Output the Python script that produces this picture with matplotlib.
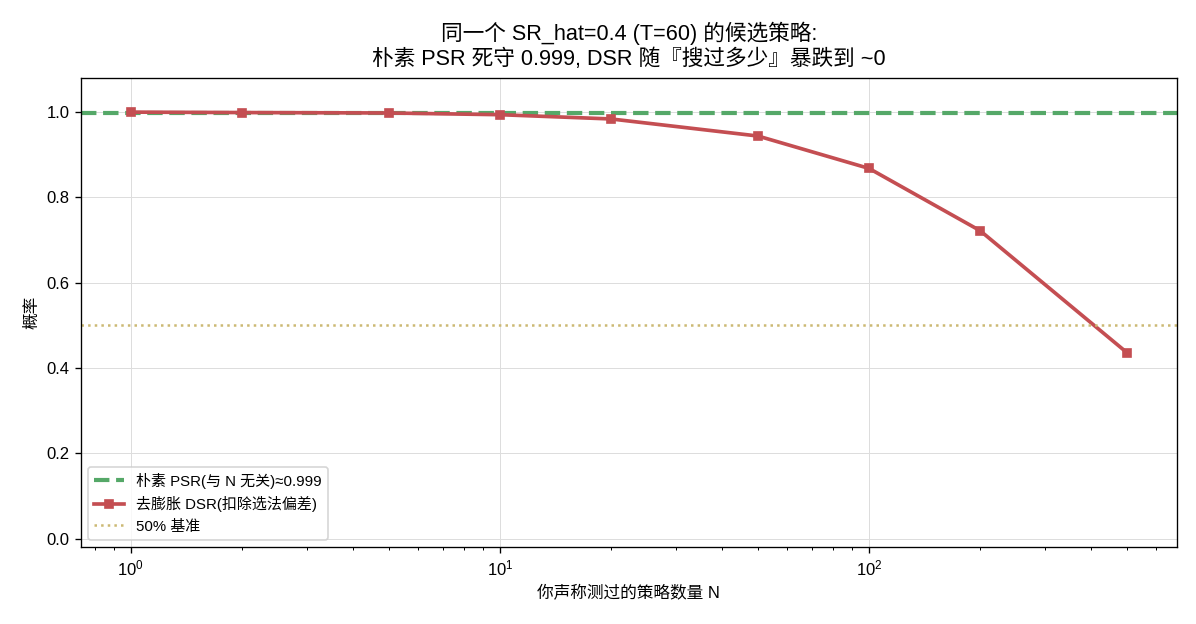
import matplotlib
matplotlib.use("Agg")
import matplotlib.pyplot as plt

plt.rcParams['font.family'] = ['Liberation Sans', 'Noto Sans CJK SC', 'DejaVu Sans']
plt.rcParams['axes.unicode_minus'] = False

# data
n_tested = [1, 2, 5, 10, 20, 50, 100, 200, 500]
dsr = [1.0, 0.999, 0.998, 0.994, 0.984, 0.944, 0.868, 0.722, 0.436]
psr = 0.999
baseline = 0.5

fig, ax = plt.subplots(figsize=(1196 / 120, 624 / 120), dpi=120)
fig.subplots_adjust(left=0.0677, right=0.984, top=0.875, bottom=0.123)

ax.axhline(psr, color='#55A868', ls='--', lw=2.5, label='朴素 PSR(与 N 无关)≈0.999')
ax.plot(n_tested, dsr, color='#C44E52', marker='s', ms=5, lw=2.2,
        label='去膨胀 DSR(扣除选法偏差)')
ax.axhline(baseline, color='#CCB974', ls=':', lw=1.5, label='50% 基准')

ax.set_xscale('log')
ax.set_ylim(-0.02, 1.08)
ax.set_xlabel('你声称测过的策略数量 N', fontsize=10)
ax.set_ylabel('概率', fontsize=10)
ax.set_title('同一个 SR_hat=0.4 (T=60) 的候选策略:\n朴素 PSR 死守 0.999, DSR 随『搜过多少』暴跌到 ~0',
             fontsize=13, pad=8)
ax.grid(True, color='#dddddd', lw=0.6)
ax.legend(loc='lower left', fontsize=9)

plt.savefig('out.png', dpi=120)
